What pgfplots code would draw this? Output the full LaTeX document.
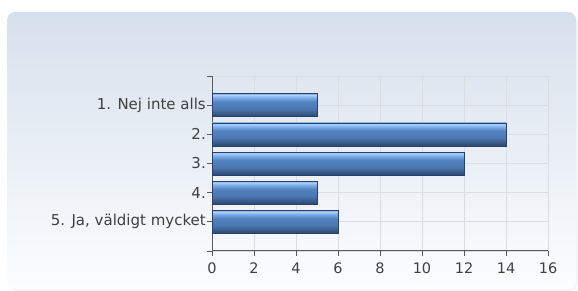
\documentclass[border=0pt]{standalone}
\usepackage{pgfplots}
\pgfplotsset{compat=1.18}
\usepackage{fontspec}
\setmainfont{DejaVu Sans}
\definecolor{bgtop}{HTML}{D6E0EC}
\definecolor{bgbot}{HTML}{FCFDFE}
\definecolor{axgray}{HTML}{5A5A5A}
\definecolor{gridgray}{HTML}{D9DCE0}
\definecolor{txt}{HTML}{404040}
\definecolor{barlight}{HTML}{86B6F0}
\definecolor{barmid}{HTML}{5383C0}
\definecolor{bardark}{HTML}{2B476F}
\definecolor{baredge}{HTML}{2A4068}
\pgfdeclareverticalshading{barshade}{100bp}{%
  color(0bp)=(bardark); color(25bp)=(bardark); color(42bp)=(barmid!80!bardark);
  color(58bp)=(barmid); color(68bp)=(barlight); color(72bp)=(barlight!65!white);
  color(74bp)=(barlight); color(100bp)=(barlight)}
\tikzset{barst/.style={draw=baredge, line width=0.6pt, shading=barshade}}
\begin{document}
\begin{tikzpicture}[x=1pt,y=1pt]
\useasboundingbox (0,0) rectangle (578,291);
\fill[gray!9] (9,0) [rounded corners=8pt] -- (9,277) -- (578,277) -- (578,0) -- cycle;
\shade[top color=bgtop, bottom color=bgbot, rounded corners=8pt] (7,2) rectangle (576,279);
\begin{axis}[
  at={(212pt,40pt)}, anchor=south west,
  scale only axis, width=336pt, height=175pt,
  xmin=0, xmax=16, ymin=0, ymax=6,
  y dir=reverse,
  xbar, bar width=23pt, bar shift=0pt,
  xtick={0,2,...,16},
  ytick={0,1,2,3,4,5,6},
  yticklabels={,1. Nej inte alls,2.,3.,4.,{5. Ja, väldigt mycket},},
  axis x line*=bottom, axis y line*=left,
  axis line style={axgray, line width=1pt, -},
  tick style={axgray, line width=0.8pt},
  tick align=outside, major tick length=5pt,
  grid=major, grid style={gridgray, line width=0.7pt},
  ticklabel style={text=txt},
  yticklabel style={inner sep=1pt, font=\fontsize{15}{17}\selectfont},
  xticklabel style={yshift=-3pt, font=\fontsize{14.5}{17}\selectfont},
  /pgf/number format/assume math mode=true,
  clip=false,
]
\addplot[barst] coordinates {(5,1)};
\addplot[barst] coordinates {(14,2)};
\addplot[barst] coordinates {(12,3)};
\addplot[barst] coordinates {(5,4)};
\addplot[barst] coordinates {(6,5)};
\end{axis}
\end{tikzpicture}
\end{document}
